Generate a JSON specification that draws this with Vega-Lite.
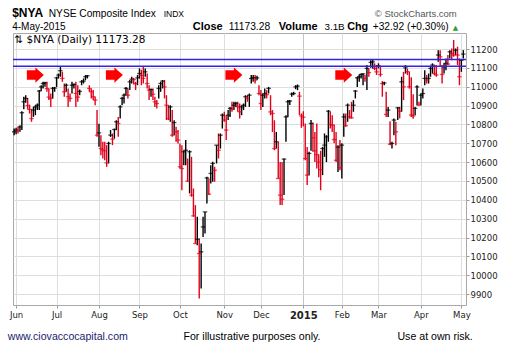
{
  "$schema": "https://vega.github.io/schema/vega-lite/v6.json",
  "width": 453,
  "height": 272,
  "autosize": {"type": "none"},
  "padding": {"left": 13, "top": 33, "right": 47, "bottom": 58},
  "background": "white",
  "config": {
    "view": {"stroke": "#a8a8a8", "strokeWidth": 1},
    "text": {"font": "Liberation Sans", "baseline": "alphabetic", "align": "left", "color": "#000"}
  },
  "resolve": {"axis": {"x": "independent", "y": "independent"}},
  "datasets": {
    "px": [
      {"date":"2014-05-30","high":10778,"low":10743,"close":10761,"dir":"up"},
      {"date":"2014-06-02","high":10782,"low":10748,"close":10770,"dir":"up"},
      {"date":"2014-06-03","high":10787,"low":10752,"close":10765,"dir":"dn"},
      {"date":"2014-06-04","high":10796,"low":10761,"close":10787,"dir":"up"},
      {"date":"2014-06-05","high":10870,"low":10770,"close":10862,"dir":"up"},
      {"date":"2014-06-06","high":10947,"low":10880,"close":10920,"dir":"up"},
      {"date":"2014-06-09","high":10955,"low":10915,"close":10938,"dir":"up"},
      {"date":"2014-06-10","high":10940,"low":10880,"close":10900,"dir":"dn"},
      {"date":"2014-06-11","high":10905,"low":10858,"close":10880,"dir":"dn"},
      {"date":"2014-06-12","high":10880,"low":10814,"close":10831,"dir":"dn"},
      {"date":"2014-06-13","high":10893,"low":10840,"close":10876,"dir":"up"},
      {"date":"2014-06-16","high":10902,"low":10849,"close":10893,"dir":"up"},
      {"date":"2014-06-17","high":10911,"low":10876,"close":10902,"dir":"up"},
      {"date":"2014-06-18","high":10982,"low":10876,"close":10977,"dir":"up"},
      {"date":"2014-06-19","high":11008,"low":10977,"close":10999,"dir":"up"},
      {"date":"2014-06-20","high":11026,"low":10991,"close":11017,"dir":"up"},
      {"date":"2014-06-23","high":11026,"low":11000,"close":11020,"dir":"up"},
      {"date":"2014-06-24","high":11026,"low":10973,"close":10990,"dir":"dn"},
      {"date":"2014-06-25","high":10990,"low":10930,"close":10945,"dir":"dn"},
      {"date":"2014-06-26","high":10964,"low":10893,"close":10938,"dir":"dn"},
      {"date":"2014-06-27","high":10999,"low":10938,"close":10991,"dir":"up"},
      {"date":"2014-06-30","high":10999,"low":10973,"close":10993,"dir":"up"},
      {"date":"2014-07-01","high":11053,"low":10999,"close":11047,"dir":"up"},
      {"date":"2014-07-02","high":11070,"low":11044,"close":11062,"dir":"up"},
      {"date":"2014-07-03","high":11108,"low":11053,"close":11085,"dir":"up"},
      {"date":"2014-07-07","high":11079,"low":11026,"close":11044,"dir":"dn"},
      {"date":"2014-07-08","high":11017,"low":10947,"close":10973,"dir":"dn"},
      {"date":"2014-07-09","high":11017,"low":10973,"close":11008,"dir":"up"},
      {"date":"2014-07-10","high":10990,"low":10893,"close":10947,"dir":"dn"},
      {"date":"2014-07-11","high":10964,"low":10920,"close":10938,"dir":"dn"},
      {"date":"2014-07-14","high":11026,"low":10964,"close":11008,"dir":"up"},
      {"date":"2014-07-15","high":11017,"low":10991,"close":11012,"dir":"up"},
      {"date":"2014-07-16","high":11026,"low":10893,"close":10965,"dir":"dn"},
      {"date":"2014-07-17","high":11008,"low":10920,"close":10945,"dir":"dn"},
      {"date":"2014-07-18","high":10985,"low":10955,"close":10975,"dir":"up"},
      {"date":"2014-07-21","high":11035,"low":11008,"close":11026,"dir":"up"},
      {"date":"2014-07-22","high":11044,"low":11017,"close":11030,"dir":"up"},
      {"date":"2014-07-23","high":11062,"low":11035,"close":11053,"dir":"up"},
      {"date":"2014-07-24","high":11062,"low":11044,"close":11058,"dir":"up"},
      {"date":"2014-07-25","high":11008,"low":10973,"close":10991,"dir":"dn"},
      {"date":"2014-07-28","high":10991,"low":10938,"close":10973,"dir":"dn"},
      {"date":"2014-07-29","high":10982,"low":10929,"close":10947,"dir":"dn"},
      {"date":"2014-07-30","high":10947,"low":10902,"close":10929,"dir":"dn"},
      {"date":"2014-07-31","high":10876,"low":10734,"close":10743,"dir":"dn"},
      {"date":"2014-08-01","high":10803,"low":10681,"close":10755,"dir":"up"},
      {"date":"2014-08-04","high":10743,"low":10637,"close":10672,"dir":"dn"},
      {"date":"2014-08-05","high":10708,"low":10619,"close":10665,"dir":"dn"},
      {"date":"2014-08-06","high":10708,"low":10610,"close":10660,"dir":"dn"},
      {"date":"2014-08-07","high":10690,"low":10575,"close":10596,"dir":"dn"},
      {"date":"2014-08-08","high":10708,"low":10593,"close":10699,"dir":"up"},
      {"date":"2014-08-11","high":10770,"low":10734,"close":10743,"dir":"up"},
      {"date":"2014-08-12","high":10752,"low":10690,"close":10722,"dir":"dn"},
      {"date":"2014-08-13","high":10778,"low":10725,"close":10773,"dir":"up"},
      {"date":"2014-08-14","high":10822,"low":10770,"close":10814,"dir":"up"},
      {"date":"2014-08-15","high":10840,"low":10734,"close":10805,"dir":"dn"},
      {"date":"2014-08-18","high":10902,"low":10831,"close":10893,"dir":"up"},
      {"date":"2014-08-19","high":10947,"low":10902,"close":10938,"dir":"up"},
      {"date":"2014-08-20","high":10964,"low":10911,"close":10955,"dir":"up"},
      {"date":"2014-08-21","high":10999,"low":10955,"close":10991,"dir":"up"},
      {"date":"2014-08-22","high":10991,"low":10938,"close":10955,"dir":"dn"},
      {"date":"2014-08-25","high":11035,"low":10982,"close":11026,"dir":"up"},
      {"date":"2014-08-26","high":11053,"low":11017,"close":11040,"dir":"up"},
      {"date":"2014-08-27","high":11047,"low":11012,"close":11038,"dir":"dn"},
      {"date":"2014-08-28","high":11026,"low":10982,"close":11017,"dir":"dn"},
      {"date":"2014-08-29","high":11062,"low":11008,"close":11047,"dir":"up"},
      {"date":"2014-09-02","high":11097,"low":11044,"close":11070,"dir":"up"},
      {"date":"2014-09-03","high":11090,"low":11008,"close":11060,"dir":"dn"},
      {"date":"2014-09-04","high":11108,"low":11017,"close":11044,"dir":"dn"},
      {"date":"2014-09-05","high":11097,"low":11053,"close":11079,"dir":"up"},
      {"date":"2014-09-08","high":11070,"low":10991,"close":11017,"dir":"dn"},
      {"date":"2014-09-09","high":11008,"low":10929,"close":10982,"dir":"dn"},
      {"date":"2014-09-10","high":10991,"low":10947,"close":10985,"dir":"up"},
      {"date":"2014-09-11","high":10990,"low":10930,"close":10960,"dir":"dn"},
      {"date":"2014-09-12","high":10947,"low":10893,"close":10920,"dir":"dn"},
      {"date":"2014-09-15","high":10929,"low":10885,"close":10911,"dir":"dn"},
      {"date":"2014-09-16","high":11008,"low":10938,"close":10991,"dir":"up"},
      {"date":"2014-09-17","high":11026,"low":10973,"close":11017,"dir":"up"},
      {"date":"2014-09-18","high":11035,"low":10991,"close":11030,"dir":"up"},
      {"date":"2014-09-19","high":11035,"low":10938,"close":10999,"dir":"dn"},
      {"date":"2014-09-22","high":10955,"low":10823,"close":10902,"dir":"dn"},
      {"date":"2014-09-23","high":10902,"low":10823,"close":10831,"dir":"dn"},
      {"date":"2014-09-24","high":10902,"low":10814,"close":10893,"dir":"up"},
      {"date":"2014-09-25","high":10876,"low":10734,"close":10743,"dir":"dn"},
      {"date":"2014-09-26","high":10822,"low":10743,"close":10810,"dir":"up"},
      {"date":"2014-09-29","high":10787,"low":10708,"close":10761,"dir":"dn"},
      {"date":"2014-09-30","high":10770,"low":10699,"close":10717,"dir":"dn"},
      {"date":"2014-10-01","high":10699,"low":10566,"close":10575,"dir":"dn"},
      {"date":"2014-10-02","high":10690,"low":10451,"close":10566,"dir":"dn"},
      {"date":"2014-10-03","high":10663,"low":10584,"close":10655,"dir":"up"},
      {"date":"2014-10-06","high":10717,"low":10584,"close":10663,"dir":"up"},
      {"date":"2014-10-07","high":10619,"low":10496,"close":10499,"dir":"dn"},
      {"date":"2014-10-08","high":10663,"low":10434,"close":10655,"dir":"up"},
      {"date":"2014-10-09","high":10628,"low":10416,"close":10425,"dir":"dn"},
      {"date":"2014-10-10","high":10460,"low":10310,"close":10315,"dir":"dn"},
      {"date":"2014-10-13","high":10372,"low":10168,"close":10168,"dir":"dn"},
      {"date":"2014-10-14","high":10310,"low":10159,"close":10191,"dir":"up"},
      {"date":"2014-10-15","high":10195,"low":9876,"close":10115,"dir":"dn"},
      {"date":"2014-10-16","high":10168,"low":9929,"close":10124,"dir":"up"},
      {"date":"2014-10-17","high":10310,"low":10203,"close":10256,"dir":"up"},
      {"date":"2014-10-20","high":10336,"low":10221,"close":10336,"dir":"up"},
      {"date":"2014-10-21","high":10522,"low":10380,"close":10516,"dir":"up"},
      {"date":"2014-10-22","high":10513,"low":10425,"close":10430,"dir":"dn"},
      {"date":"2014-10-23","high":10584,"low":10487,"close":10540,"dir":"up"},
      {"date":"2014-10-24","high":10602,"low":10496,"close":10593,"dir":"up"},
      {"date":"2014-10-27","high":10575,"low":10496,"close":10557,"dir":"dn"},
      {"date":"2014-10-28","high":10690,"low":10593,"close":10690,"dir":"up"},
      {"date":"2014-10-29","high":10752,"low":10619,"close":10663,"dir":"dn"},
      {"date":"2014-10-30","high":10752,"low":10672,"close":10743,"dir":"up"},
      {"date":"2014-10-31","high":10858,"low":10778,"close":10849,"dir":"up"},
      {"date":"2014-11-03","high":10867,"low":10814,"close":10823,"dir":"dn"},
      {"date":"2014-11-04","high":10849,"low":10717,"close":10770,"dir":"dn"},
      {"date":"2014-11-05","high":10876,"low":10823,"close":10849,"dir":"up"},
      {"date":"2014-11-06","high":10893,"low":10840,"close":10885,"dir":"up"},
      {"date":"2014-11-07","high":10920,"low":10867,"close":10880,"dir":"dn"},
      {"date":"2014-11-10","high":10920,"low":10876,"close":10902,"dir":"up"},
      {"date":"2014-11-11","high":10920,"low":10893,"close":10911,"dir":"up"},
      {"date":"2014-11-12","high":10920,"low":10867,"close":10893,"dir":"dn"},
      {"date":"2014-11-13","high":10911,"low":10831,"close":10867,"dir":"dn"},
      {"date":"2014-11-14","high":10902,"low":10849,"close":10893,"dir":"up"},
      {"date":"2014-11-17","high":10911,"low":10876,"close":10902,"dir":"up"},
      {"date":"2014-11-18","high":10955,"low":10893,"close":10947,"dir":"up"},
      {"date":"2014-11-19","high":10955,"low":10920,"close":10938,"dir":"dn"},
      {"date":"2014-11-20","high":10964,"low":10893,"close":10955,"dir":"up"},
      {"date":"2014-11-21","high":11062,"low":11017,"close":11044,"dir":"up"},
      {"date":"2014-11-24","high":11062,"low":11026,"close":11047,"dir":"up"},
      {"date":"2014-11-25","high":11062,"low":11017,"close":11035,"dir":"dn"},
      {"date":"2014-11-26","high":11058,"low":11035,"close":11047,"dir":"up"},
      {"date":"2014-11-28","high":11008,"low":10955,"close":10964,"dir":"dn"},
      {"date":"2014-12-01","high":10982,"low":10876,"close":10911,"dir":"dn"},
      {"date":"2014-12-02","high":10964,"low":10893,"close":10955,"dir":"up"},
      {"date":"2014-12-03","high":10991,"low":10938,"close":10964,"dir":"up"},
      {"date":"2014-12-04","high":10982,"low":10938,"close":10958,"dir":"dn"},
      {"date":"2014-12-05","high":10999,"low":10964,"close":10991,"dir":"up"},
      {"date":"2014-12-08","high":10955,"low":10849,"close":10867,"dir":"dn"},
      {"date":"2014-12-09","high":10876,"low":10760,"close":10858,"dir":"dn"},
      {"date":"2014-12-10","high":10822,"low":10663,"close":10672,"dir":"dn"},
      {"date":"2014-12-11","high":10760,"low":10672,"close":10708,"dir":"up"},
      {"date":"2014-12-12","high":10708,"low":10513,"close":10513,"dir":"dn"},
      {"date":"2014-12-15","high":10601,"low":10372,"close":10425,"dir":"dn"},
      {"date":"2014-12-16","high":10601,"low":10372,"close":10403,"dir":"dn"},
      {"date":"2014-12-17","high":10619,"low":10425,"close":10616,"dir":"up"},
      {"date":"2014-12-18","high":10849,"low":10708,"close":10840,"dir":"up"},
      {"date":"2014-12-19","high":10929,"low":10840,"close":10920,"dir":"up"},
      {"date":"2014-12-22","high":10929,"low":10903,"close":10924,"dir":"up"},
      {"date":"2014-12-23","high":10970,"low":10947,"close":10961,"dir":"up"},
      {"date":"2014-12-24","high":10973,"low":10955,"close":10964,"dir":"up"},
      {"date":"2014-12-26","high":11008,"low":10987,"close":10999,"dir":"up"},
      {"date":"2014-12-29","high":11012,"low":10982,"close":11003,"dir":"up"},
      {"date":"2014-12-30","high":10973,"low":10850,"close":10950,"dir":"dn"},
      {"date":"2014-12-31","high":10858,"low":10782,"close":10845,"dir":"dn"},
      {"date":"2015-01-02","high":10870,"low":10790,"close":10838,"dir":"dn"},
      {"date":"2015-01-05","high":10805,"low":10610,"close":10619,"dir":"dn"},
      {"date":"2015-01-06","high":10680,"low":10478,"close":10531,"dir":"dn"},
      {"date":"2015-01-07","high":10655,"low":10531,"close":10646,"dir":"up"},
      {"date":"2015-01-08","high":10823,"low":10660,"close":10805,"dir":"up"},
      {"date":"2015-01-09","high":10810,"low":10655,"close":10729,"dir":"dn"},
      {"date":"2015-01-12","high":10760,"low":10600,"close":10660,"dir":"dn"},
      {"date":"2015-01-13","high":10805,"low":10566,"close":10640,"dir":"dn"},
      {"date":"2015-01-14","high":10640,"low":10520,"close":10600,"dir":"dn"},
      {"date":"2015-01-15","high":10660,"low":10451,"close":10560,"dir":"dn"},
      {"date":"2015-01-16","high":10681,"low":10531,"close":10672,"dir":"up"},
      {"date":"2015-01-20","high":10752,"low":10628,"close":10690,"dir":"up"},
      {"date":"2015-01-21","high":10743,"low":10600,"close":10734,"dir":"up"},
      {"date":"2015-01-22","high":10876,"low":10708,"close":10870,"dir":"up"},
      {"date":"2015-01-23","high":10867,"low":10778,"close":10800,"dir":"dn"},
      {"date":"2015-01-26","high":10849,"low":10760,"close":10796,"dir":"dn"},
      {"date":"2015-01-27","high":10800,"low":10700,"close":10720,"dir":"dn"},
      {"date":"2015-01-28","high":10760,"low":10600,"close":10610,"dir":"dn"},
      {"date":"2015-01-29","high":10690,"low":10548,"close":10680,"dir":"up"},
      {"date":"2015-01-30","high":10717,"low":10557,"close":10570,"dir":"dn"},
      {"date":"2015-02-02","high":10700,"low":10513,"close":10690,"dir":"up"},
      {"date":"2015-02-03","high":10858,"low":10734,"close":10840,"dir":"up"},
      {"date":"2015-02-04","high":10858,"low":10787,"close":10793,"dir":"dn"},
      {"date":"2015-02-05","high":10911,"low":10814,"close":10902,"dir":"up"},
      {"date":"2015-02-06","high":10876,"low":10831,"close":10840,"dir":"dn"},
      {"date":"2015-02-09","high":10920,"low":10831,"close":10835,"dir":"dn"},
      {"date":"2015-02-10","high":10929,"low":10867,"close":10902,"dir":"up"},
      {"date":"2015-02-11","high":10982,"low":10938,"close":10977,"dir":"up"},
      {"date":"2015-02-12","high":11053,"low":10999,"close":11047,"dir":"up"},
      {"date":"2015-02-13","high":11065,"low":11026,"close":11053,"dir":"up"},
      {"date":"2015-02-17","high":11070,"low":11044,"close":11065,"dir":"up"},
      {"date":"2015-02-18","high":11070,"low":11008,"close":11068,"dir":"up"},
      {"date":"2015-02-19","high":11062,"low":11026,"close":11044,"dir":"dn"},
      {"date":"2015-02-20","high":11115,"low":10982,"close":11097,"dir":"up"},
      {"date":"2015-02-23","high":11097,"low":11053,"close":11075,"dir":"dn"},
      {"date":"2015-02-24","high":11141,"low":11100,"close":11129,"dir":"up"},
      {"date":"2015-02-25","high":11145,"low":11097,"close":11132,"dir":"up"},
      {"date":"2015-02-26","high":11124,"low":11088,"close":11097,"dir":"dn"},
      {"date":"2015-02-27","high":11115,"low":11062,"close":11079,"dir":"dn"},
      {"date":"2015-03-02","high":11124,"low":11097,"close":11111,"dir":"up"},
      {"date":"2015-03-03","high":11106,"low":11053,"close":11065,"dir":"dn"},
      {"date":"2015-03-04","high":11030,"low":10947,"close":11017,"dir":"dn"},
      {"date":"2015-03-05","high":11026,"low":11008,"close":11020,"dir":"up"},
      {"date":"2015-03-06","high":10973,"low":10840,"close":10853,"dir":"dn"},
      {"date":"2015-03-09","high":10893,"low":10840,"close":10876,"dir":"up"},
      {"date":"2015-03-10","high":10817,"low":10690,"close":10695,"dir":"dn"},
      {"date":"2015-03-11","high":10708,"low":10672,"close":10699,"dir":"up"},
      {"date":"2015-03-12","high":10832,"low":10743,"close":10823,"dir":"up"},
      {"date":"2015-03-13","high":10814,"low":10690,"close":10761,"dir":"dn"},
      {"date":"2015-03-16","high":10893,"low":10823,"close":10888,"dir":"up"},
      {"date":"2015-03-17","high":10893,"low":10832,"close":10870,"dir":"dn"},
      {"date":"2015-03-18","high":11053,"low":10867,"close":11026,"dir":"up"},
      {"date":"2015-03-19","high":11079,"low":10929,"close":10999,"dir":"dn"},
      {"date":"2015-03-20","high":11115,"low":11070,"close":11100,"dir":"up"},
      {"date":"2015-03-23","high":11095,"low":11062,"close":11080,"dir":"dn"},
      {"date":"2015-03-24","high":11080,"low":10990,"close":11000,"dir":"dn"},
      {"date":"2015-03-25","high":11050,"low":10840,"close":10850,"dir":"dn"},
      {"date":"2015-03-26","high":10960,"low":10830,"close":10845,"dir":"dn"},
      {"date":"2015-03-27","high":10893,"low":10849,"close":10885,"dir":"up"},
      {"date":"2015-03-30","high":11008,"low":10902,"close":10999,"dir":"up"},
      {"date":"2015-03-31","high":10920,"low":10900,"close":10902,"dir":"dn"},
      {"date":"2015-04-01","high":10964,"low":10902,"close":10955,"dir":"up"},
      {"date":"2015-04-02","high":10991,"low":10938,"close":10964,"dir":"up"},
      {"date":"2015-04-06","high":11088,"low":11008,"close":11044,"dir":"up"},
      {"date":"2015-04-07","high":11062,"low":11017,"close":11035,"dir":"dn"},
      {"date":"2015-04-08","high":11070,"low":11017,"close":11044,"dir":"up"},
      {"date":"2015-04-09","high":11106,"low":11053,"close":11097,"dir":"up"},
      {"date":"2015-04-10","high":11124,"low":11070,"close":11115,"dir":"up"},
      {"date":"2015-04-13","high":11115,"low":11062,"close":11070,"dir":"dn"},
      {"date":"2015-04-14","high":11115,"low":11053,"close":11062,"dir":"dn"},
      {"date":"2015-04-15","high":11194,"low":11132,"close":11168,"dir":"up"},
      {"date":"2015-04-16","high":11194,"low":11106,"close":11159,"dir":"dn"},
      {"date":"2015-04-17","high":11115,"low":11017,"close":11065,"dir":"dn"},
      {"date":"2015-04-20","high":11124,"low":11070,"close":11106,"dir":"up"},
      {"date":"2015-04-21","high":11150,"low":11088,"close":11124,"dir":"up"},
      {"date":"2015-04-22","high":11168,"low":11115,"close":11120,"dir":"dn"},
      {"date":"2015-04-23","high":11194,"low":11150,"close":11185,"dir":"up"},
      {"date":"2015-04-24","high":11203,"low":11141,"close":11177,"dir":"dn"},
      {"date":"2015-04-27","high":11248,"low":11159,"close":11168,"dir":"dn"},
      {"date":"2015-04-28","high":11203,"low":11168,"close":11194,"dir":"up"},
      {"date":"2015-04-29","high":11212,"low":11115,"close":11168,"dir":"dn"},
      {"date":"2015-04-30","high":11150,"low":11008,"close":11053,"dir":"dn"},
      {"date":"2015-05-01","high":11141,"low":11079,"close":11140,"dir":"up"},
      {"date":"2015-05-04","high":11194,"low":11150,"close":11173,"dir":"up"}
    ],
    "levels": [{"level": 11145}, {"level": 11108}],
    "arrows": [
      {"date": "2014-06-16", "value": 11062},
      {"date": "2014-08-13", "value": 11062},
      {"date": "2014-11-10", "value": 11062},
      {"date": "2015-02-03", "value": 11062}
    ]
  },
  "layer": [
    {
      "data": {"name": "px"},
      "mark": {"type": "rule", "strokeWidth": 1.4},
      "encoding": {
        "x": {
          "field": "date", "type": "ordinal",
          "scale": {"type": "point", "padding": 1.45, "align": 0.3},
          "axis": {
            "values": ["2014-06-02","2014-07-01","2014-08-01","2014-09-02","2014-10-01","2014-11-03","2014-12-01","2015-01-02","2015-02-02","2015-03-02","2015-04-01","2015-05-01"],
            "labelExpr": "datum.value == '2015-01-02' ? '2015' : utcFormat(toDate(datum.value), '%b')",
            "title": null, "domain": false, "grid": true,
            "gridColor": {"condition": {"test": "datum.value == '2015-01-02'", "value": "#c4c4c4"}, "value": "#dedede"},
            "tickSize": 3, "tickColor": "#9a9a9a", "labelAngle": 0, "labelOverlap": false, "labelFlush": false,
            "labelFont": "DejaVu Sans", "labelFontSize": {"condition": {"test": "datum.value == '2015-01-02'", "value": 10}, "value": 8.5},
            "labelFontWeight": {"condition": {"test": "datum.value == '2015-01-02'", "value": "bold"}, "value": "normal"},
            "labelColor": "#222", "labelPadding": 2
          }
        },
        "y": {
          "field": "low", "type": "quantitative",
          "scale": {"domain": [9842, 11285], "nice": false, "zero": false},
          "axis": {
            "orient": "right", "title": null, "domain": false, "grid": true, "gridColor": "#dedede",
            "values": [9900,10000,10100,10200,10300,10400,10500,10600,10700,10800,10900,11000,11100,11200],
            "format": "d", "tickSize": 3, "tickColor": "#9a9a9a",
            "labelFont": "DejaVu Sans", "labelFontSize": 8.5, "labelColor": "#222", "labelPadding": 1
          }
        },
        "y2": {"field": "high"},
        "color": {"field": "dir", "type": "nominal", "scale": {"domain": ["up", "dn"], "range": ["#000000", "#e2001a"]}, "legend": null}
      }
    },
    {
      "data": {"name": "px"},
      "mark": {"type": "tick", "thickness": 1.3, "size": 4.5},
      "encoding": {
        "x": {"field": "date", "type": "ordinal", "axis": null},
        "y": {"field": "close", "type": "quantitative", "axis": null},
        "color": {"field": "dir", "type": "nominal", "legend": null}
      }
    },
    {
      "data": {"name": "levels"},
      "mark": {"type": "rule", "color": "#3322e6", "strokeWidth": 1.5},
      "encoding": {"y": {"field": "level", "type": "quantitative", "axis": null}}
    },
    {
      "data": {"name": "arrows"},
      "mark": {"type": "point", "shape": "M-1,-0.55L0,-0.55L0,-0.9L1,0L0,0.9L0,0.55L-1,0.55Z", "filled": true, "color": "#ff0000", "opacity": 1, "size": 289, "strokeWidth": 0},
      "encoding": {
        "x": {"field": "date", "type": "ordinal", "axis": null},
        "y": {"field": "value", "type": "quantitative", "axis": null}
      }
    },
    {
      "data": {"values": [{}]},
      "mark": {"type": "text", "text": "$NYA", "fontSize": 12, "fontWeight": "bold", "dx": -2},
      "encoding": {"x": {"datum": "2014-05-30", "type": "ordinal", "axis": null}, "y": {"datum": 11368, "type": "quantitative", "axis": null}}
    },
    {
      "data": {"values": [{}]},
      "mark": {"type": "text", "text": "NYSE Composite Index", "fontSize": 10.2, "dx": 34.6},
      "encoding": {"x": {"datum": "2014-05-30", "type": "ordinal", "axis": null}, "y": {"datum": 11368, "type": "quantitative", "axis": null}}
    },
    {
      "data": {"values": [{}]},
      "mark": {"type": "text", "text": "INDX", "fontSize": 8.5, "dx": 149.5},
      "encoding": {"x": {"datum": "2014-05-30", "type": "ordinal", "axis": null}, "y": {"datum": 11368, "type": "quantitative", "axis": null}}
    },
    {
      "data": {"values": [{}]},
      "mark": {"type": "text", "text": "© StockCharts.com", "fontSize": 9.5, "color": "#555555", "align": "right", "dx": 442.6},
      "encoding": {"x": {"datum": "2014-05-30", "type": "ordinal", "axis": null}, "y": {"datum": 11368, "type": "quantitative", "axis": null}}
    },
    {
      "data": {"values": [{}]},
      "mark": {"type": "text", "text": "4-May-2015", "fontSize": 10, "dx": -2},
      "encoding": {"x": {"datum": "2014-05-30", "type": "ordinal", "axis": null}, "y": {"datum": 11303, "type": "quantitative", "axis": null}}
    },
    {
      "data": {"values": [{}]},
      "mark": {"type": "text", "text": "Close", "fontSize": 11, "fontWeight": "bold", "dx": 178.6},
      "encoding": {"x": {"datum": "2014-05-30", "type": "ordinal", "axis": null}, "y": {"datum": 11303, "type": "quantitative", "axis": null}}
    },
    {
      "data": {"values": [{}]},
      "mark": {"type": "text", "text": "11173.28", "fontSize": 10.3, "dx": 214.6},
      "encoding": {"x": {"datum": "2014-05-30", "type": "ordinal", "axis": null}, "y": {"datum": 11303, "type": "quantitative", "axis": null}}
    },
    {
      "data": {"values": [{}]},
      "mark": {"type": "text", "text": "Volume", "fontSize": 11, "fontWeight": "bold", "dx": 264.6},
      "encoding": {"x": {"datum": "2014-05-30", "type": "ordinal", "axis": null}, "y": {"datum": 11303, "type": "quantitative", "axis": null}}
    },
    {
      "data": {"values": [{}]},
      "mark": {"type": "text", "text": "3.1B", "fontSize": 9.8, "dx": 310.3},
      "encoding": {"x": {"datum": "2014-05-30", "type": "ordinal", "axis": null}, "y": {"datum": 11303, "type": "quantitative", "axis": null}}
    },
    {
      "data": {"values": [{}]},
      "mark": {"type": "text", "text": "Chg", "fontSize": 10.8, "fontWeight": "bold", "dx": 333},
      "encoding": {"x": {"datum": "2014-05-30", "type": "ordinal", "axis": null}, "y": {"datum": 11303, "type": "quantitative", "axis": null}}
    },
    {
      "data": {"values": [{}]},
      "mark": {"type": "text", "text": "+32.92 (+0.30%)", "fontSize": 10.2, "dx": 358.6},
      "encoding": {"x": {"datum": "2014-05-30", "type": "ordinal", "axis": null}, "y": {"datum": 11303, "type": "quantitative", "axis": null}}
    },
    {
      "data": {"values": [{}]},
      "mark": {"type": "text", "text": "▲", "fontSize": 7, "color": "#2e9e2e", "font": "DejaVu Sans", "dx": 438.5},
      "encoding": {"x": {"datum": "2014-05-30", "type": "ordinal", "axis": null}, "y": {"datum": 11303, "type": "quantitative", "axis": null}}
    },
    {
      "data": {"values": [{}]},
      "mark": {"type": "text", "text": "⇅ $NYA (Daily) 11173.28", "fontSize": 10.5, "font": "DejaVu Sans", "dx": 0.3},
      "encoding": {"x": {"datum": "2014-05-30", "type": "ordinal", "axis": null}, "y": {"datum": 11232, "type": "quantitative", "axis": null}}
    },
    {
      "data": {"values": [{}]},
      "mark": {"type": "text", "text": "www.ciovaccocapital.com", "fontSize": 10.6, "color": "#1c1c6e", "dx": -6.4},
      "encoding": {"x": {"datum": "2014-05-30", "type": "ordinal", "axis": null}, "y": {"datum": 9654, "type": "quantitative", "axis": null}}
    },
    {
      "data": {"values": [{}]},
      "mark": {"type": "text", "text": "For illustrative purposes only.", "fontSize": 10.6, "dx": 169.3},
      "encoding": {"x": {"datum": "2014-05-30", "type": "ordinal", "axis": null}, "y": {"datum": 9654, "type": "quantitative", "axis": null}}
    },
    {
      "data": {"values": [{}]},
      "mark": {"type": "text", "text": "Use at own risk.", "fontSize": 10.6, "dx": 383.3},
      "encoding": {"x": {"datum": "2014-05-30", "type": "ordinal", "axis": null}, "y": {"datum": 9654, "type": "quantitative", "axis": null}}
    }
  ]
}
